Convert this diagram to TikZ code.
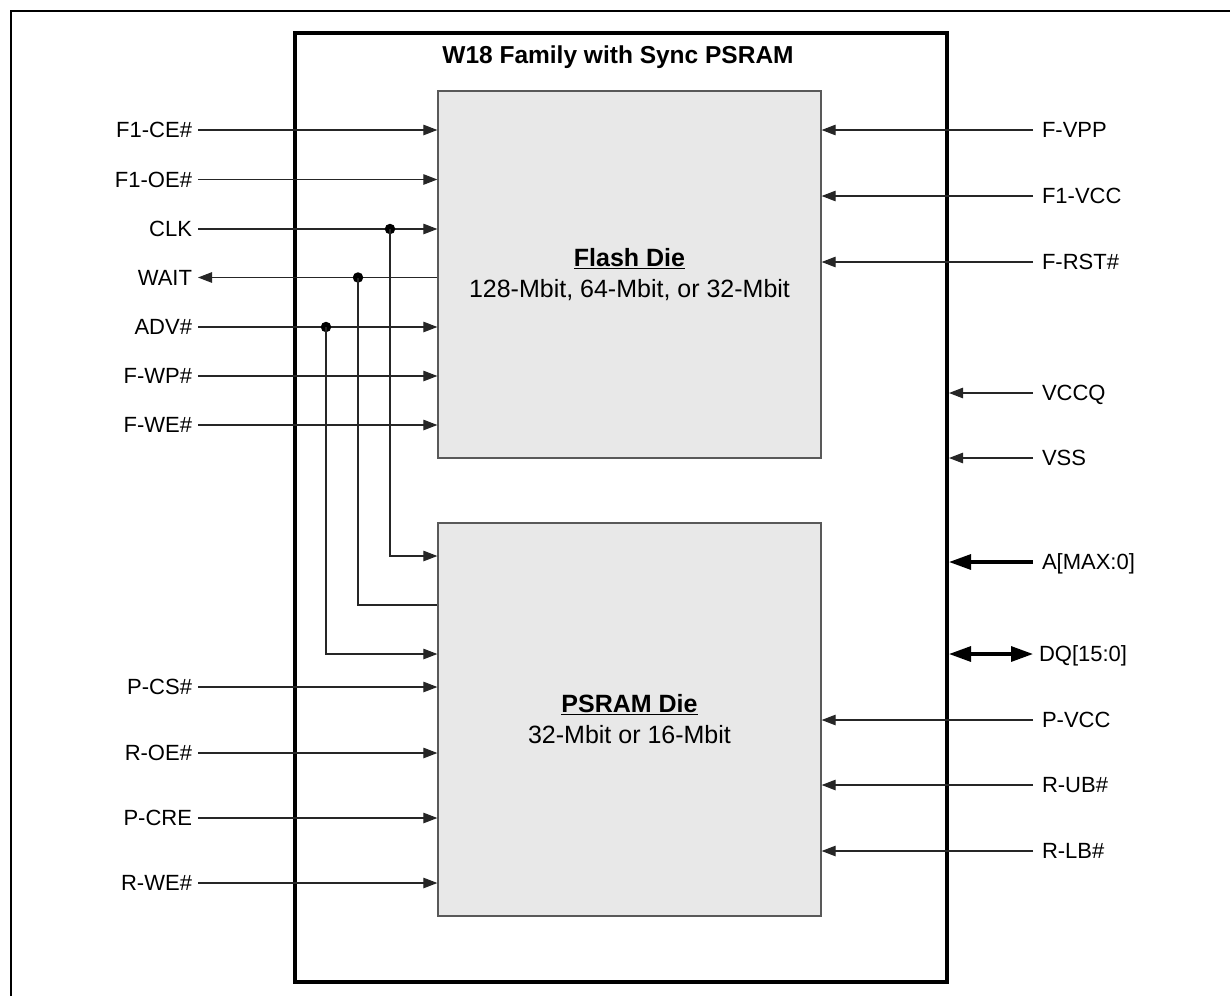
\documentclass[tikz,border=0pt]{standalone}
\usepackage{fontspec}
\setmainfont{Liberation Sans}
\usetikzlibrary{arrows.meta}

\begin{document}
\begin{tikzpicture}[x=1pt,y=-1pt,inner sep=0pt,
pkgbox/.style={draw,rectangle,line width=4pt},
die/.style={draw=black!65,fill=black!9,rectangle,line width=1.3pt,align=center,font=\fontsize{25}{31}\selectfont},
leftlabel/.style={anchor=east,outer sep=6pt,text height=15.5pt,text depth=0pt,font=\fontsize{22}{26}\selectfont},
rightlabel/.style={anchor=west,outer sep=9pt,text height=15.5pt,text depth=0pt,font=\fontsize{22}{26}\selectfont},
wire/.style={draw=black!85,line width=1.1pt},
pin/.style={wire,-{Triangle[length=14pt,width=10.5pt]}},
bus/.style={draw,line width=3.2pt},
bustip/.tip={Triangle[length=22pt,width=15pt]},
dot/.style={circle,fill,minimum size=10.5pt,inner sep=0pt}]

\useasboundingbox (0,0) rectangle (1230,996);
\draw[line width=2pt] (11,996) -- (11,11) -- (1230,11);

% package and dies
\node[pkgbox,minimum width=652pt,minimum height=949pt] (pkg) at (621,507.5) {};
\node[text height=17.5pt,text depth=0pt,font=\fontsize{24.5}{28}\selectfont\bfseries] (title) at (618,54.5) {W18 Family with Sync PSRAM};
\node[die,minimum width=383pt,minimum height=367pt] (flash) at (629.5,274.5) {\underline{\textbf{Flash Die}}\\128-Mbit, 64-Mbit, or 32-Mbit};
\node[die,minimum width=383pt,minimum height=393pt] (psram) at (629.5,719.5) {\underline{\textbf{PSRAM Die}}\\32-Mbit or 16-Mbit};

% left side signals
\node[leftlabel] (ce1) at (198,130) {F1-CE\#};
\node[leftlabel] (oe1) at (198,179.5) {F1-OE\#};
\node[leftlabel] (clk) at (198,229) {CLK};
\node[leftlabel] (wait) at (198,277.5) {WAIT};
\node[leftlabel] (adv) at (198,327) {ADV\#};
\node[leftlabel] (fwp) at (198,376) {F-WP\#};
\node[leftlabel] (fwe) at (198,425) {F-WE\#};
\node[leftlabel] (pcs) at (198,687) {P-CS\#};
\node[leftlabel] (roe) at (198,753) {R-OE\#};
\node[leftlabel] (pcre) at (198,818) {P-CRE};
\node[leftlabel] (rwe) at (198,883) {R-WE\#};

\draw[pin] (ce1) -- (ce1 -| flash.west);
\draw[pin] (oe1) -- (oe1 -| flash.west);
\draw[pin] (clk) -- (clk -| flash.west);
\draw[pin] (wait -| flash.west) -- (wait);
\draw[pin] (adv) -- (adv -| flash.west);
\draw[pin] (fwp) -- (fwp -| flash.west);
\draw[pin] (fwe) -- (fwe -| flash.west);
\draw[pin] (pcs) -- (pcs -| psram.west);
\draw[pin] (roe) -- (roe -| psram.west);
\draw[pin] (pcre) -- (pcre -| psram.west);
\draw[pin] (rwe) -- (rwe -| psram.west);

% shared signals
\node[dot] (clkdot) at (390,229) {};
\node[dot] (waitdot) at (358,277.5) {};
\node[dot] (advdot) at (326,327) {};
\draw[pin] (clkdot.center) |- (psram.west |- 0,556);
\draw[wire] (waitdot.center) |- (psram.west |- 0,605);
\draw[pin] (advdot.center) |- (psram.west |- 0,654);

% right side signals
\node[rightlabel] (fvpp) at (1033,130) {F-VPP};
\node[rightlabel] (f1vcc) at (1033,196) {F1-VCC};
\node[rightlabel] (frst) at (1033,262) {F-RST\#};
\node[rightlabel] (vccq) at (1033,393) {VCCQ};
\node[rightlabel] (vss) at (1033,458) {VSS};
\node[rightlabel] (amax) at (1033,562) {A[MAX:0]};
\node[rightlabel,outer sep=6pt] (dq) at (1033,654) {DQ[15:0]};
\node[rightlabel] (pvcc) at (1033,720) {P-VCC};
\node[rightlabel] (rub) at (1033,785) {R-UB\#};
\node[rightlabel] (rlb) at (1033,851) {R-LB\#};

\draw[pin] (fvpp) -- (fvpp -| flash.east);
\draw[pin] (f1vcc) -- (f1vcc -| flash.east);
\draw[pin] (frst) -- (frst -| flash.east);
\draw[pin] (vccq) -- (vccq -| pkg.east);
\draw[pin] (vss) -- (vss -| pkg.east);
\draw[bus,-bustip] (amax) -- (amax -| pkg.east);
\draw[bus,bustip-bustip] (dq -| pkg.east) -- (dq);
\draw[pin] (pvcc) -- (pvcc -| psram.east);
\draw[pin] (rub) -- (rub -| psram.east);
\draw[pin] (rlb) -- (rlb -| psram.east);
\end{tikzpicture}
\end{document}
